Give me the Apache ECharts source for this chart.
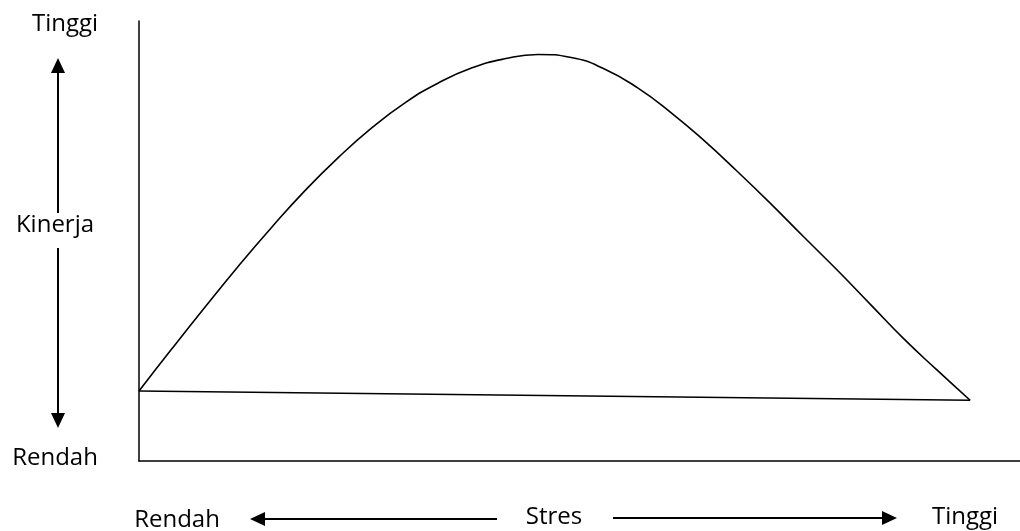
<!DOCTYPE html>
<html>
<head>
<meta charset="utf-8">
<script src="https://cdn.jsdelivr.net/npm/echarts@6/dist/echarts.min.js"></script>
<style>
  html, body { margin: 0; padding: 0; background: #fff; }
  #chart { width: 1020px; height: 531px; }
</style>
</head>
<body>
<div id="chart"></div>
<script>
// stres (x) dan kinerja (y), skala relatif 0-100
var stres = [0, 4, 8, 12, 16, 20, 24, 28, 32, 36, 40, 44, 48, 52, 56, 60, 64, 68, 72, 76, 80, 84, 88, 92, 96, 100];
var kinerja = [15.9, 25.6, 35.1, 44.4, 53.2, 61.5, 69.0, 75.7, 81.4, 85.9, 89.3, 91.4, 92.4, 91.7, 89.1, 84.8, 79.2, 72.8, 65.8, 58.5, 50.9, 43.4, 35.6, 27.8, 20.7, 13.8];
var garisDasarX = [0, 100];
var garisDasarY = [15.9, 13.8];

var labelKiri = ['Tinggi', 'Kinerja', 'Rendah'];
var labelBawah = ['Rendah', 'Stres', 'Tinggi'];

var font = '"Open Sans", sans-serif';
var black = '#000';

function pairs(xs, ys) {
    return xs.map(function (x, i) { return [x, ys[i]]; });
}

function text(str, x, y) {
    return {
        type: 'text',
        x: x,
        y: y,
        style: {
            text: str,
            fill: black,
            font: '24px ' + font,
            align: 'center',
            verticalAlign: 'middle'
        }
    };
}

function line(x1, y1, x2, y2) {
    return {
        type: 'line',
        shape: { x1: x1, y1: y1, x2: x2, y2: y2 },
        style: { stroke: black, lineWidth: 2 }
    };
}

function head(points) {
    return {
        type: 'polygon',
        shape: { points: points },
        style: { fill: black }
    };
}

var chart = echarts.init(document.getElementById('chart'), null, { renderer: 'canvas' });

var option = {
    animation: false,
    backgroundColor: '#fff',
    grid: {
        left: 139,
        right: 0,
        top: 21,
        bottom: 70,
        outerBoundsMode: 'none'
    },
    xAxis: {
        type: 'value',
        min: 0,
        max: 106,
        axisLine: { show: true, onZero: false, lineStyle: { color: black, width: 1.5 } },
        axisTick: { show: false },
        axisLabel: { show: false },
        splitLine: { show: false }
    },
    yAxis: {
        type: 'value',
        min: 0,
        max: 100,
        axisLine: { show: true, onZero: false, lineStyle: { color: black, width: 1.5 } },
        axisTick: { show: false },
        axisLabel: { show: false },
        splitLine: { show: false }
    },
    series: [
        {
            name: 'Kinerja',
            type: 'line',
            data: pairs(stres, kinerja),
            smooth: true,
            showSymbol: false,
            lineStyle: { color: black, width: 1.6 }
        },
        {
            name: 'Dasar',
            type: 'line',
            data: pairs(garisDasarX, garisDasarY),
            showSymbol: false,
            lineStyle: { color: black, width: 1.6 }
        }
    ],
    graphic: [
        text(labelKiri[0], 65, 24),
        text(labelKiri[1], 55, 225),
        text(labelKiri[2], 55, 458),
        text(labelBawah[0], 177, 520),
        text(labelBawah[1], 554, 517),
        text(labelBawah[2], 965, 517),
        // panah kinerja
        line(58, 72, 58, 213),
        head([[58, 58], [51, 73], [65, 73]]),
        line(58, 248, 58, 419),
        head([[58, 428], [51, 413], [65, 413]]),
        // panah stres
        line(264, 519, 497, 519),
        head([[250, 519], [265, 512], [265, 526]]),
        line(613, 518, 883, 518),
        head([[897, 518], [882, 511], [882, 525]])
    ]
};

chart.setOption(option);
</script>
</body>
</html>
